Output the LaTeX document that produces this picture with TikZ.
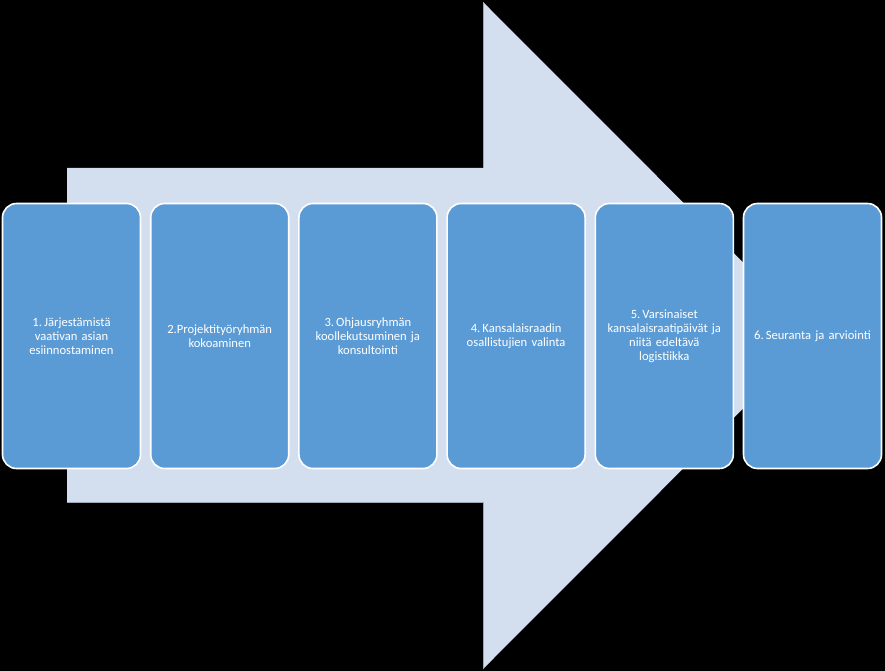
\documentclass[tikz,border=0pt]{standalone}
\usepackage{fontspec}
\setmainfont[WordSpace=0.75]{Carlito}
\definecolor{arrowfill}{HTML}{D3DEEF}
\definecolor{arrowedge}{HTML}{9AA8BE}
\definecolor{boxfill}{HTML}{5B9BD5}
\begin{document}
\begin{tikzpicture}[x=1pt,y=-1pt,
  stepbox/.style={draw=white, line width=1.6pt, fill=boxfill, rounded corners=14pt,
    minimum width=138pt, minimum height=265pt, inner sep=0pt, text=white,
    align=center, font=\fontsize{12.6}{14}\selectfont, text width=134pt}]
\fill[black] (0,0) rectangle (885,671);
\useasboundingbox (0,0) rectangle (885,671);
\fill[arrowfill] (67,168) -- (483,168) -- (483,2) -- (816,335.5) -- (483,669) -- (483,502) -- (67,502) -- cycle;
\draw[arrowedge, line width=0.8pt] (483,168) -- (483,2);
\draw[arrowedge, line width=0.8pt] (483,669) -- (483,502) -- (67,502);
\node[stepbox] (s1) at (71.5,336) {1.\,Järjestämistä\\vaativan asian\\esiinnostaminen};
\node[stepbox] (s2) at (219.7,336) {2.Projektityöryhmän\\kokoaminen};
\node[stepbox] (s3) at (367.9,336) {3.\,Ohjausryhmän\\koollekutsuminen ja\\konsultointi};
\node[stepbox] (s4) at (516.1,336) {4.\,Kansalaisraadin\\osallistujien valinta};
\node[stepbox] (s5) at (664.3,336) {5.\,Varsinaiset\\kansalaisraatipäivät ja\\niitä edeltävä\\logistiikka};
\node[stepbox] (s6) at (812.5,336) {6.\,Seuranta ja arviointi};
\end{tikzpicture}
\end{document}
